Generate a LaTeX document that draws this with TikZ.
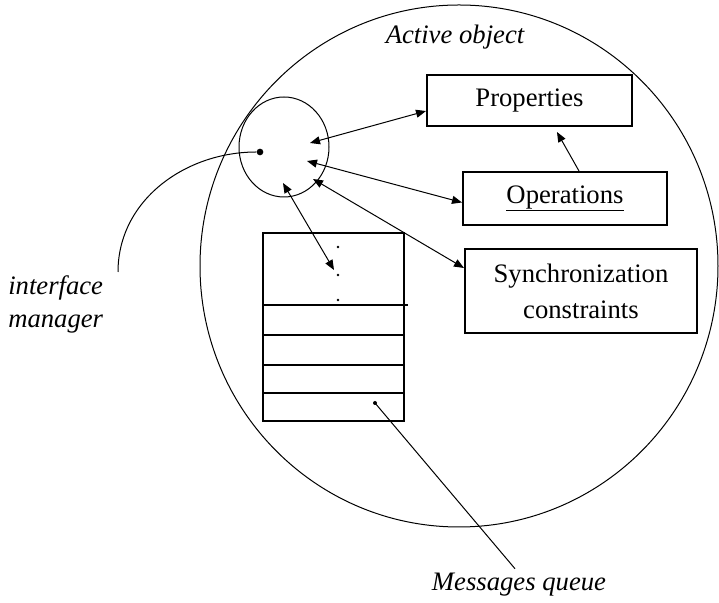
\documentclass[tikz,border=0pt]{standalone}
\usepackage{fontspec}
\setmainfont{Liberation Serif}
\usetikzlibrary{arrows.meta,shapes.geometric}
\begin{document}
\begin{tikzpicture}[x=0.75pt,y=0.75pt,
  lbl/.style={font=\fontsize{20}{27}\selectfont},
  ilbl/.style={font=\fontsize{20}{24.75}\selectfont\itshape},
  box/.style={draw, line width=1.5pt, inner sep=0pt, lbl},
  thin/.style={line width=0.75pt},
  link/.style={thin, {Triangle[length=7.5pt,width=6pt]}-{Triangle[length=7.5pt,width=6pt]}},
  onelink/.style={thin, -{Triangle[length=7.5pt,width=6pt]}}]
\useasboundingbox (0,0) rectangle (719,603);
% active object
\coordinate (objc) at (459,337);
\draw[thin] (objc) ellipse [x radius=259, y radius=261];
\node[ilbl] (objlbl) at (455,566) {Active object};
% interface manager
\node[draw, ellipse, thin, minimum width=67.5pt, minimum height=75pt, inner sep=0pt] (imgr) at (284,456) {};
\node[circle, fill, inner sep=0pt, minimum size=5pt] (imgrdot) at (260,451) {};
\coordinate (imgrend) at (118,331);
\draw[thin] (imgrdot) to[out=180, in=90] (imgrend);
\node[ilbl, align=left, anchor=west, inner sep=0pt] (imgrlbl) at (8,299) {interface\\manager};
\coordinate (tipP) at (310,460);
\coordinate (tipO) at (307,442);
\coordinate (tipS) at (313,424);
\coordinate (tipQ) at (283,420);
% parts
\node[box] (props) at (529.5,502.5) [minimum width=153.75pt, minimum height=38.25pt] {Properties};
\node[box] (ops) at (565,404.5) [minimum width=153pt, minimum height=39.75pt] {\underline{Operations}};
\node[box, align=center] (sync) at (581,312) [minimum width=174pt, minimum height=63pt] {Synchronization\\constraints};
% messages queue
\node[draw, line width=1.5pt, minimum width=105.75pt, minimum height=141pt, inner sep=0pt] (queue) at (333.5,276) {};
\draw[line width=1.5pt] (263,298) -- (408,298);
\foreach \sy in {268,238,210}
  \draw[line width=1.5pt] (263,\sy) -- (404,\sy);
\foreach \dy in {356,328,303}
  \fill (338,\dy) circle (1pt);
\coordinate (qtip) at (334,333);
\coordinate (qmsg) at (375,200);
\fill (qmsg) circle (1.5pt);
\node[ilbl] (mqlbl) at (519,18) {Messages queue};
% connectors
\draw[link] (tipP) -- ([yshift=-7.9pt]props.west);
\draw[link] (tipO) -- ([yshift=-3pt]ops.west);
\draw[link] (tipS) -- ([yshift=17.25pt]sync.west);
\draw[link] (tipQ) -- (qtip);
\draw[onelink] ([xshift=10.5pt]ops.north) -- ([xshift=20.6pt,yshift=-3.75pt]props.south);
\draw[thin] (qmsg) -- ([xshift=-3pt]mqlbl.north);
\end{tikzpicture}
\end{document}
